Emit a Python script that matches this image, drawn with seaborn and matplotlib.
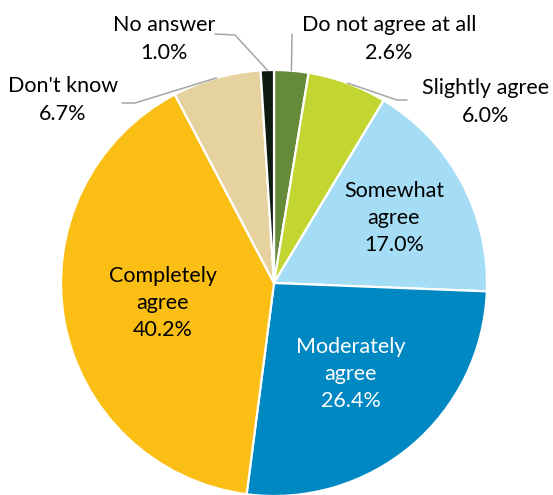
import numpy as np
import matplotlib
matplotlib.use("Agg")
import matplotlib.pyplot as plt
import seaborn as sns

sns.set_theme(style="white")
plt.rcParams["font.family"] = ["Lato", "DejaVu Sans"]

categories = ["Do not agree at all", "Slightly agree", "Somewhat agree",
              "Moderately agree", "Completely agree", "Don't know", "No answer"]
shares = [2.6, 6.0, 17.0, 26.4, 40.2, 6.7, 1.0]
colors = ["#658B3A", "#C3D530", "#A6DDF6", "#0088C3", "#FBBE14", "#E6D29F", "#0D1A10"]

W, H = 553, 495
CX, CY, R = 274, 283, 213

fig = plt.figure(figsize=(W / 100, H / 100), dpi=100)
ax = fig.add_axes([(CX - R) / W, (H - CY - R) / H, 2 * R / W, 2 * R / H])
wedges, _ = ax.pie(shares, colors=colors, startangle=90, counterclock=False,
                   wedgeprops=dict(edgecolor="white", linewidth=1.6))
ax.set_xlim(-1, 1)
ax.set_ylim(-1, 1)
ax.set_aspect("auto")
ax.axis("off")


def px(x, y):
    """Pixel position -> pie data coordinates."""
    return (x - CX) / R, (CY - y) / R


def mid_angle(w):
    return np.deg2rad((w.theta1 + w.theta2) / 2)


def pct(v):
    return f"{v:.1f}%"


fs = 15.5
ls = 1.45

# labels drawn inside the larger slices
inside = {2: (0.64, "black"), 3: (0.56, "white"), 4: (0.53, "black")}
inside_text = {2: "Somewhat\nagree", 3: "Moderately\nagree", 4: "Completely\nagree"}
for i, (r, c) in inside.items():
    a = mid_angle(wedges[i])
    ax.text(r * np.cos(a), r * np.sin(a), f"{inside_text[i]}\n{pct(shares[i])}",
            ha="center", va="center", color=c, fontsize=fs, linespacing=ls)

# outside labels with leader lines: (index, elbow px, end px, text center px)
outside = [
    (0, None, (292, 34), (389, 39)),
    (6, (235, 35), (215, 34), (164, 39)),
    (1, (397, 100), (407, 100), (486, 102)),
    (5, (135, 103), (122, 103), (63, 100)),
]
for i, elbow, end, tc in outside:
    a = mid_angle(wedges[i])
    pts = [(np.cos(a), np.sin(a))]
    if elbow is not None:
        pts.append(px(*elbow))
    pts.append(px(*end))
    xs, ys = zip(*pts)
    ax.plot(xs, ys, color="#A6A6A6", lw=1.1, clip_on=False)
    tx, ty = px(*tc)
    ax.text(tx, ty, f"{categories[i]}\n{pct(shares[i])}", ha="center", va="center",
            color="black", fontsize=fs, linespacing=ls)

fig.savefig("out.png", dpi=100)
